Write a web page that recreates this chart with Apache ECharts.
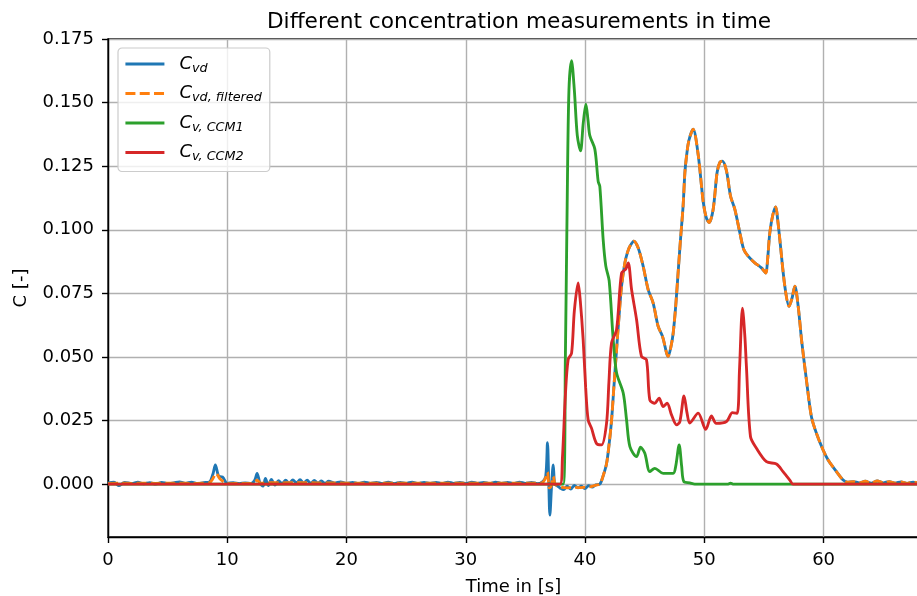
<!DOCTYPE html>
<html><head><meta charset="utf-8">
<script src="https://cdn.jsdelivr.net/npm/echarts@6/dist/echarts.min.js"></script>
<style>html,body{margin:0;padding:0;background:#fff}#c{width:917px;height:596px}</style>
</head><body><div id="c"></div>
<script>
// ---- data ----
const seriesNames = ['Cvd', 'Cvd,filtered', 'Cv,CCM1', 'Cv,CCM2'];
const seriesSubs = ['vd', 'vd, filtered', 'v, CCM1', 'v, CCM2'];
const xTicks = [0, 10, 20, 30, 40, 50, 60];
const yTicks = [0, 0.025, 0.05, 0.075, 0.1, 0.125, 0.15, 0.175];

// raw Cvd, low (noisy) part
const cvdLowTime = [0,0.5,0.9,1.4,2,2.5,3,3.5,4,4.5,5,5.5,6,6.5,7,7.5,8,8.5,8.8,9,9.3,9.6,10,10.5,11,11.5,12,12.3,12.5,12.75,13,13.2,13.45,13.7,14,14.3,14.6,14.9,15.2,15.5,15.8,16.1,16.4,16.7,17,17.3,17.6,17.9,18.2,18.5,19,19.5,20,20.5,21,21.5,22,22.5,23,23.5,24,24.5,25,25.5,26,26.5,27,27.5,28,28.5,29,29.5,30,30.5,31,31.5,32,32.5,33,33.5,34,34.5,35,35.5,36,36.4,36.7,36.85,36.95,37.05,37.2,37.33,37.45,37.6,37.9,38.2,38.5,38.8,39.1,39.4,39.7,40,40.3,40.6,40.9];
const cvdLowValue = [0.0005,0.0008,-0.0006,0.0007,0.0002,0.0008,0.0001,0.0006,0,0.0007,0.0002,0.0005,0.0009,0.0003,0.0008,0.0002,0.0006,0.0008,0.004,0.0075,0.003,0.0028,0.0003,0.0006,0.0002,0.0005,0.0003,0.0015,0.0042,0.0003,-0.0008,0.0022,-0.0006,0.0018,-0.0004,0.0013,0.0002,0.0015,0.0003,0.0016,0.0005,0.0017,0.0004,0.0015,0.0003,0.0014,0.0004,0.0012,0.0003,0.0011,0.0004,0.0009,0.0003,0.0007,0.0002,0.0008,0.0003,0.0007,0.0002,0.0008,0.0002,0.0007,0.0003,0.0008,0.0002,0.0007,0.0003,0.0007,0.0002,0.0008,0.0003,0.0007,0.0002,0.0008,0.0003,0.0007,0.0002,0.0008,0.0003,0.0007,0.0002,0.0008,0.0003,0.0007,0.0002,0.0008,0.003,0.0163,0.002,-0.0122,0,0.0075,0,-0.0005,-0.0015,-0.0022,-0.0008,-0.002,-0.0005,-0.0015,-0.0008,-0.0018,-0.0006,-0.0012,-0.0003];

// filtered Cvd, low part
const cvdFiltLowTime = [0,1,2,3,4,5,6,7,8,8.5,8.8,9.05,9.4,9.8,10.2,11,12,12.3,12.5,12.8,13.5,14.5,15.5,16.5,17.5,18.5,20,22,24,26,28,30,32,34,36,36.4,36.7,36.85,37,37.15,37.33,37.5,38,38.5,39,39.5,40,40.5,40.9];
const cvdFiltLowValue = [0.0003,0.0004,0.0003,0.0004,0.0003,0.0004,0.0004,0.0003,0.0004,0.0005,0.0022,0.0042,0.002,0.0006,0.0002,0.0003,0.0003,0.0008,0.0015,0.0004,0.0006,0.0005,0.0006,0.0006,0.0005,0.0005,0.0004,0.0004,0.0004,0.0004,0.0004,0.0004,0.0004,0.0004,0.0004,0.0005,0.0025,0.0047,-0.0015,-0.001,0.003,0,-0.0012,-0.0015,-0.0012,-0.0014,-0.0012,-0.001,-0.0004];

// Cvd, peak part (shared by raw and filtered)
const cvdPeakTime = [41.24,41.5,41.8,42,42.22,42.4,42.64,42.85,43.06,43.34,43.55,43.76,44.09,44.45,44.87,45.29,45.71,46.13,46.5,46.97,47.2,47.39,47.6,47.8,48,48.22,48.37,48.51,48.7,49.06,49.48,49.9,50.15,50.4,50.74,51.07,51.3,51.52,51.86,52.2,52.56,52.98,53.31,53.67,54.23,54.79,55.15,55.3,55.49,55.75,55.99,56.15,56.33,56.75,57.11,57.35,57.59,57.87,58.15,58.56,58.98,59.4,59.96,60.38,61.08,61.64,62,62.5,63,63.5,64,64.5,65,65.5,66,66.5,67,67.5,68];
const cvdPeakValue = [0,0.003,0.008,0.015,0.025,0.037,0.0528,0.066,0.0778,0.087,0.091,0.0935,0.0955,0.0929,0.0857,0.0765,0.0712,0.062,0.058,0.0502,0.054,0.0594,0.07,0.083,0.096,0.1093,0.1225,0.129,0.135,0.1395,0.1297,0.1112,0.105,0.1028,0.108,0.1225,0.1265,0.127,0.1231,0.1132,0.108,0.0988,0.0922,0.0896,0.087,0.085,0.083,0.088,0.0988,0.106,0.109,0.104,0.0962,0.0778,0.0699,0.073,0.0778,0.0699,0.0568,0.041,0.0265,0.02,0.0134,0.0095,0.0049,0.0016,0.0008,0.001,0.0005,0.0011,0.0004,0.0012,0.0005,0.001,0.0004,0.0009,0.0003,0.0008,0.0004];

// C_v,CCM1
const ccm1Time = [0,38.17,38.35,38.5,38.65,38.87,39.1,39.35,39.62,39.85,40.07,40.25,40.4,40.82,41.1,41.24,41.52,41.74,42.02,42.36,42.64,43.2,43.48,43.76,44.32,44.65,45.01,45.43,45.85,46.55,47.39,47.6,47.89,48.1,48.28,48.78,49.2,52,52.2,52.4,57.4,68];
const ccm1Value = [0,0,0.05,0.11,0.155,0.1665,0.155,0.137,0.131,0.142,0.1494,0.143,0.137,0.1317,0.119,0.117,0.096,0.0857,0.08,0.0568,0.0438,0.0358,0.0252,0.0147,0.0108,0.0145,0.0121,0.0049,0.0062,0.0042,0.0042,0.007,0.0154,0.007,0.001,0.0005,0,0,0.0004,0,0,0];

// C_v,CCM2
const ccm2Time = [0,37.9,38.1,38.35,38.58,38.87,39.1,39.42,39.6,39.84,40.05,40.26,40.54,40.96,41.38,41.8,42,42.22,42.64,43.06,43.42,43.62,43.9,44.32,44.73,45.15,45.43,45.85,46.21,46.55,46.88,47.25,47.67,47.95,48.3,48.55,48.78,49.48,50.12,50.6,51,51.86,52.36,52.75,52.95,53.2,53.4,53.53,53.87,54.37,55.21,56.05,56.6,57.17,57.44,68];
const ccm2Value = [0,0,0.01,0.035,0.0489,0.0515,0.068,0.0791,0.072,0.0568,0.038,0.0252,0.022,0.016,0.0154,0.0239,0.04,0.0555,0.0607,0.083,0.0846,0.087,0.0765,0.0646,0.0502,0.0489,0.0331,0.0318,0.0338,0.0305,0.0318,0.0272,0.0233,0.0246,0.0347,0.028,0.024,0.0279,0.0215,0.0268,0.0239,0.0246,0.0281,0.0278,0.045,0.0692,0.058,0.0462,0.0187,0.0141,0.0088,0.0079,0.0049,0.0016,0,0];

// ---- build ----
const zip = (t, v) => t.map((x, i) => [x, v[i]]);
const cvdData = zip(cvdLowTime, cvdLowValue).concat(zip(cvdPeakTime, cvdPeakValue));
const cvdFiltData = zip(cvdFiltLowTime, cvdFiltLowValue).concat(zip(cvdPeakTime, cvdPeakValue));
const ccm1Data = zip(ccm1Time, ccm1Value);
const ccm2Data = zip(ccm2Time, ccm2Value);

const FONT = 'DejaVu Sans';
const LW = 2.85;
const mk = (name, data, color, dash) => ({
  name, type: 'line', data, symbol: 'none', smooth: 0.3, animation: false,
  lineStyle: { color, width: LW, type: dash ? [10, 4.3] : 'solid', cap: 'butt' },
  itemStyle: { color }
});

const chart = echarts.init(document.getElementById('c'), null, { renderer: 'canvas' });
chart.setOption({
  backgroundColor: '#fff',
  animation: false,
  textStyle: { fontFamily: FONT },
  graphic: [{
    type: 'text', x: 519, y: 22,
    style: { text: 'Different concentration measurements in time', font: '21.7px "DejaVu Sans"', fill: '#000', textAlign: 'center', textVerticalAlign: 'middle' }
  }],
  grid: { left: 108, right: -2, top: 39, bottom: 59, outerBoundsMode: 'none', containLabel: false, show: true, borderColor: '#000', borderWidth: 1.4, backgroundColor: 'transparent' },
  legend: {
    orient: 'vertical', left: 118, top: 48,
    padding: [7, 8, 8, 6], itemGap: 9.5, itemWidth: 39, itemHeight: 14,
    backgroundColor: 'rgba(255,255,255,0.8)', borderColor: '#cccccc', borderWidth: 1.2, borderRadius: 4,
    itemStyle: { opacity: 0 },
    lineStyle: { width: LW },
    data: seriesNames,
    formatter: name => '{m|C}{s|' + seriesSubs[seriesNames.indexOf(name)] + '}',
    textStyle: {
      fontFamily: FONT, color: '#000',
      rich: {
        m: { fontSize: 18, fontStyle: 'italic', fontFamily: FONT, color: '#000', lineHeight: 22, verticalAlign: 'bottom', padding: [0, 0, 2, 10] },
        s: { fontSize: 12.8, fontStyle: 'italic', fontFamily: FONT, color: '#000', lineHeight: 22, verticalAlign: 'bottom' }
      }
    }
  },
  xAxis: {
    type: 'value', min: 0, max: 68, interval: 10,
    name: 'Time in [s]', nameLocation: 'middle', nameGap: 41,
    nameTextStyle: { fontSize: 18, color: '#000', fontFamily: FONT },
    axisLine: { onZero: false, lineStyle: { color: '#000', width: 1.4 } },
    axisTick: { length: 6, lineStyle: { color: '#000', width: 1.4 } },
    axisLabel: { fontSize: 18, color: '#000', margin: 14, showMaxLabel: false, fontFamily: FONT },
    splitLine: { show: true, lineStyle: { color: '#b0b0b0', width: 1.4 } }
  },
  yAxis: {
    type: 'value', min: -0.0208, max: 0.175,
    name: 'C [-]', nameLocation: 'middle', nameGap: 78,
    nameTextStyle: { fontSize: 18, color: '#000', fontFamily: FONT },
    axisLine: { onZero: false, lineStyle: { color: '#000', width: 1.4 } },
    axisTick: { customValues: yTicks, length: 6, lineStyle: { color: '#000', width: 1.4 } },
    axisLabel: { customValues: yTicks, fontSize: 18, color: '#000', margin: 14, fontFamily: FONT, formatter: v => v.toFixed(3) },
    splitLine: { show: true, lineStyle: { color: '#b0b0b0', width: 1.4 } }
  },
  series: [
    mk(seriesNames[0], cvdData, '#1f77b4', false),
    mk(seriesNames[1], cvdFiltData, '#ff7f0e', true),
    mk(seriesNames[2], ccm1Data, '#2ca02c', false),
    mk(seriesNames[3], ccm2Data, '#d62728', false)
  ]
});
</script></body></html>
